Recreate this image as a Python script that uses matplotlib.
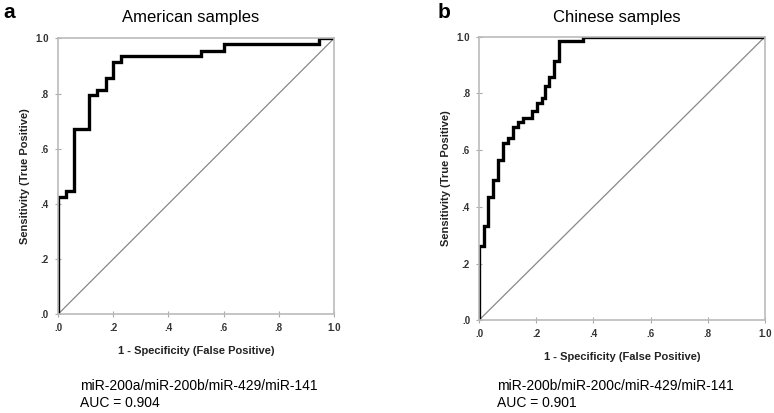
import matplotlib.pyplot as plt

# ROC vertices
us_fpr = [0, 0, .029, .029, .058, .058, .113, .113, .143, .143, .173, .173,
          .2, .2, .228, .228, .517, .517, .603, .603, .947, .947, 1.0]
us_tpr = [0, .426, .426, .447, .447, .671, .671, .795, .795, .813, .813, .855,
          .855, .915, .915, .937, .937, .955, .955, .979, .979, 1.0, 1.0]

cn_fpr = [0, 0, .019, .019, .033, .033, .05, .05, .067, .067, .085, .085,
          .102, .102, .118, .118, .137, .137, .153, .153, .184, .184, .202, .202,
          .219, .219, .231, .231, .246, .246, .262, .262, .281, .281, .363, .363, 1.0]
cn_tpr = [0, .26, .26, .332, .332, .436, .436, .494, .494, .565, .565, .624,
          .624, .642, .642, .683, .683, .70, .70, .712, .712, .739, .739, .767,
          .767, .783, .783, .825, .825, .857, .857, .916, .916, .986, .986, 1.0, 1.0]

ticks = [0, .2, .4, .6, .8, 1.0]
tick_labels = [".0", ".2", ".4", ".6", ".8", "1.0"]

panels = [
    ("a", "American samples", us_fpr, us_tpr,
     "miR-200a/miR-200b/miR-429/miR-141", "AUC = 0.904"),
    ("b", "Chinese samples", cn_fpr, cn_tpr,
     "miR-200b/miR-200c/miR-429/miR-141", "AUC = 0.901"),
]

plt.rcParams["font.family"] = ["Liberation Sans", "DejaVu Sans"]

fig = plt.figure(figsize=(7.74, 4.13), dpi=100)
rects = [[0.0749, 0.239, 0.3566, 0.668], [0.6189, 0.2247, 0.3695, 0.6864]]
letter_x = [0.005, 0.565]
title_x = [0.246, 0.797]
cap_x = [0.103, 0.642]

for i, (letter, title, fpr, tpr, cap1, cap2) in enumerate(panels):
    ax = fig.add_axes(rects[i])
    ax.plot([0, 1], [0, 1], color="#888888", lw=0.9)
    ax.plot(fpr, tpr, color="black", lw=2.4, solid_joinstyle="miter")
    ax.set_xlim(0, 1)
    ax.set_ylim(0, 1)
    ax.set_xticks(ticks)
    ax.set_yticks(ticks)
    ax.set_xticklabels(tick_labels, fontsize=7, fontweight="bold", color="#333333")
    ax.set_yticklabels(tick_labels, fontsize=7, fontweight="bold", color="#333333")
    ax.tick_params(direction="inout", length=5, width=0.8, color="#aaaaaa", pad=4)
    for s in ax.spines.values():
        s.set_color("#bbbbbb")
        s.set_linewidth(1.2)
    ax.set_xlabel("1 - Specificity (False Positive)", fontsize=8, fontweight="bold",
                  color="#222222", labelpad=9)
    ax.set_ylabel("Sensitivity (True Positive)", fontsize=8, fontweight="bold",
                  color="#222222", labelpad=4)

    fig.text(letter_x[i], 0.97, letter, fontsize=15, fontweight="bold", va="center")
    fig.text(title_x[i], 0.958, title, fontsize=12, ha="center", va="center")
    fig.text(cap_x[i], 0.066, cap1, fontsize=10, va="center")
    fig.text(cap_x[i], 0.024, cap2, fontsize=10, va="center")

fig.savefig("out.png", dpi=100)
